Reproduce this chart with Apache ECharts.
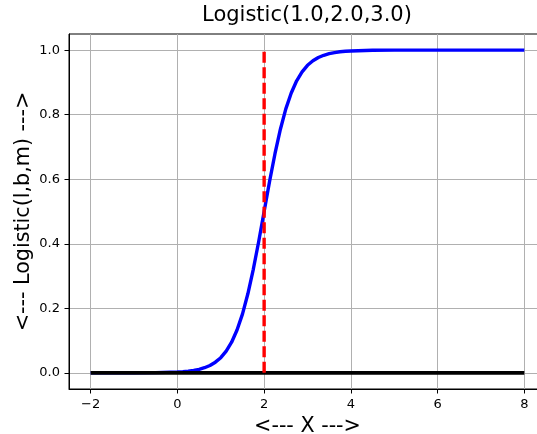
<!DOCTYPE html>
<html>
<head>
<meta charset="utf-8">
<script src="https://cdn.jsdelivr.net/npm/echarts@6/dist/echarts.min.js"></script>
<style>html,body{margin:0;padding:0;background:#fff}#c{width:537px;height:434px}</style>
</head>
<body>
<div id="c"></div>
<script>
// Values
var titleText = 'Logistic(1.0,2.0,3.0)';
var xName = '<--- X --->';
var yName = '<--- Logistic(l,b,m) --->';
var xTicks = [-2, 0, 2, 4, 6, 8];
var yTicks = [0, 0.2, 0.4, 0.6, 0.8, 1.0];

var curveX = [-2, -1.5, -1, -0.5, 0, 0.125, 0.25, 0.375, 0.5, 0.625, 0.75, 0.875, 1, 1.125, 1.25, 1.375, 1.5, 1.625, 1.75, 1.875, 2,
  2.125, 2.25, 2.375, 2.5, 2.625, 2.75, 2.875, 3, 3.125, 3.25, 3.375, 3.5, 3.625, 3.75, 3.875, 4, 4.5, 5, 5.5, 6, 7, 8];
var curveY = [0.0000, 0.0000, 0.0001, 0.0006, 0.0025, 0.0036, 0.0052, 0.0076, 0.011, 0.0159, 0.023, 0.0331, 0.047, 0.0675, 0.095, 0.133, 0.182, 0.245, 0.321, 0.407, 0.5,
  0.593, 0.679, 0.755, 0.818, 0.867, 0.905, 0.9325, 0.953, 0.967, 0.977, 0.9841, 0.989, 0.9924, 0.995, 0.9964, 0.9975, 0.9995, 0.9999, 1.0, 1.0, 1.0, 1.0];

var baseX = [-2, 8];
var baseY = [0, 0];
var vlineX = [2, 2];
var vlineY = [0, 1];

function pairs(xs, ys) { return xs.map(function (x, i) { return [x, ys[i]]; }); }

var FONT = 'DejaVu Sans';
var chart = echarts.init(document.getElementById('c'), null, {renderer: 'canvas'});
chart.setOption({
  animation: false,
  backgroundColor: '#ffffff',
  textStyle: {fontFamily: FONT},
  grid: {left: 69, right: -9, top: 34, bottom: 45, outerBoundsMode: 'none', containLabel: false,
    show: true, borderColor: '#000', borderWidth: 1, backgroundColor: 'transparent'},
  graphic: [{
    type: 'text', x: 307, y: 5,
    style: {text: titleText, fontFamily: FONT, fontSize: 21, fill: '#000', textAlign: 'center', textVerticalAlign: 'top'}
  }],
  xAxis: {
    type: 'value', min: -2.5, max: 8.5,
    name: xName, nameLocation: 'middle', nameGap: 27, nameMoveOverlap: false,
    nameTextStyle: {fontFamily: FONT, fontSize: 20.7, color: '#000'},
    axisLine: {show: true, onZero: false, lineStyle: {color: '#000', width: 1}},
    axisTick: {show: true, length: 4.5, customValues: xTicks, lineStyle: {color: '#000', width: 1}},
    axisLabel: {customValues: xTicks, fontFamily: FONT, fontSize: 13, color: '#000', margin: 9,
      formatter: function (v) { return v < 0 ? '\u2212' + Math.abs(v) : String(v); }},
    splitLine: {show: true, lineStyle: {color: '#b0b0b0', width: 1}}
  },
  yAxis: {
    type: 'value', min: -0.05, max: 1.05,
    name: yName, nameLocation: 'middle', nameGap: 35, nameRotate: 90, nameMoveOverlap: false,
    nameTextStyle: {fontFamily: FONT, fontSize: 20.7, color: '#000'},
    axisLine: {show: true, onZero: false, lineStyle: {color: '#000', width: 1}},
    axisTick: {show: true, length: 4.5, customValues: yTicks, lineStyle: {color: '#000', width: 1}},
    axisLabel: {customValues: yTicks, fontFamily: FONT, fontSize: 13, color: '#000', margin: 9,
      formatter: function (v) { return v.toFixed(1); }},
    splitLine: {show: true, lineStyle: {color: '#b0b0b0', width: 1}}
  },
  series: [
    {type: 'line', data: pairs(curveX, curveY), showSymbol: false, smooth: false,
      lineStyle: {color: '#0000ff', width: 3.4, join: 'round'}, z: 2},
    {type: 'line', data: pairs(baseX, baseY), showSymbol: false,
      lineStyle: {color: '#000000', width: 3.8}, z: 3},
    {type: 'line', data: pairs(vlineX, vlineY), showSymbol: false,
      lineStyle: {color: '#ff0000', width: 3.4, type: [11, 4.5]}, z: 4}
  ]
});
</script>
</body>
</html>
